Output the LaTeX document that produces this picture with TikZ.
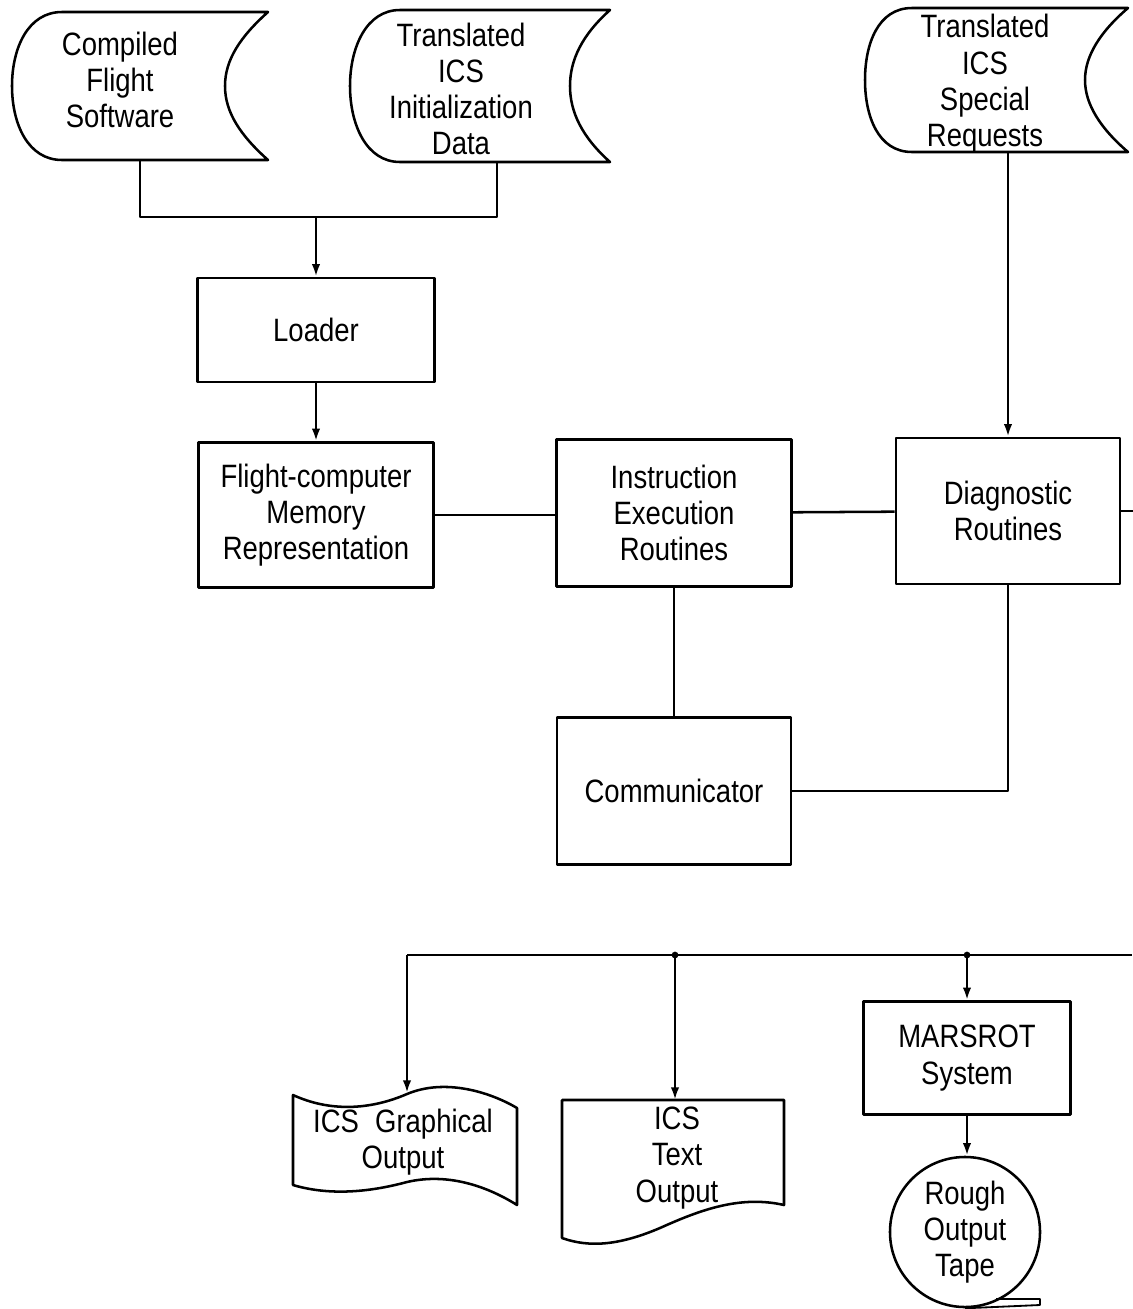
\documentclass[tikz,border=0pt]{standalone}
\usepackage{fontspec}
\setmainfont[FakeStretch=0.85]{Liberation Sans}
\usetikzlibrary{arrows.meta, positioning}

\begin{document}
\begin{tikzpicture}[x=0.025cm, y=-0.025cm, line width=1.8pt, line join=round, >={Latex[length=9pt,width=6pt]},
	every node/.style={font=\fontsize{23}{25.8}\selectfont, align=center},
	box/.style={draw, rectangle, inner sep=2pt},
	txt/.style={inner sep=0pt},
	tape/.style={draw, circle, minimum size=3.75cm, inner sep=0pt}]
	\fill[white] (0,0) rectangle (1132,1309);
	\useasboundingbox (0,0) rectangle (1132,1309);

	% Stored data
	\node[txt] (cfs) at (120,80) {Compiled\\Flight\\Software};
	\draw (268,12) -- (62,12) .. controls (28,12) and (12,48) .. (12,86) .. controls (12,124) and (28,160) .. (62,160) -- (268,160) .. controls (240,135) and (225,112) .. (225,86) .. controls (225,60) and (240,37) .. (268,12) -- cycle;
	\node[txt] (icd) at (461,89) {Translated\\ICS\\Initialization\\Data};
	\draw (610,10) -- (400,10) .. controls (366,10) and (350,48) .. (350,86) .. controls (350,124) and (366,162) .. (400,162) -- (610,162) .. controls (582,137) and (570,112) .. (570,86) .. controls (570,60) and (582,35) .. (610,10) -- cycle;
	\node[txt] (isr) at (985,84) {Translated\\ICS\\Special\\Requests};
	\draw (1128,8) -- (912,8) .. controls (878,8) and (865,44) .. (865,80) .. controls (865,116) and (878,152) .. (912,152) -- (1128,152) .. controls (1100,128) and (1085,104) .. (1085,80) .. controls (1085,56) and (1100,32) .. (1128,8) -- cycle;
	\coordinate (cfs-out) at (140,160);
	\coordinate (icd-out) at (497,162);
	\coordinate (isr-out) at (1008,152);
	\coordinate (join) at (316,217);

	% Processing boxes
	\node[box, minimum width=5.925cm, minimum height=2.6cm] (loader) at (316,330) {Loader};
	\node[box, minimum width=5.875cm, minimum height=3.625cm] (mem) at (316,515) {Flight-computer\\Memory\\Representation};
	\node[box, minimum width=5.875cm, minimum height=3.675cm] (instr) at (674,513) {Instruction\\Execution\\Routines};
	\node[box, minimum width=5.6cm, minimum height=3.65cm] (diag) at (1008,511) {Diagnostic\\Routines};
	\node[box, minimum width=5.85cm, minimum height=3.675cm] (comm) at (674,791) {Communicator};
	\node[box, minimum width=5.175cm, minimum height=2.825cm] (mars) at (967,1058) {MARSROT\\System};

	% Outputs
	\node[txt] (gout) at (403,1142) {ICS\enspace Graphical\\Output};
	\draw (293,1095) .. controls (330,1112) and (370,1110) .. (407,1094) .. controls (445,1078) and (490,1092) .. (517,1108) -- (517,1205) .. controls (490,1188) and (450,1172) .. (407,1182) .. controls (370,1192) and (330,1196) .. (293,1185) -- cycle;
	\node[txt] (tout) at (677,1158) {ICS\\Text\\Output};
	\draw (562,1100) -- (784,1100) -- (784,1205) .. controls (740,1195) and (700,1210) .. (660,1228) .. controls (620,1245) and (590,1248) .. (562,1238) -- cycle;
	\node[tape] (rot) at (965,1232) {Rough\\Output\\Tape};
	\draw[line width=1.3pt] (rot.south) -- (1040,1305) -- (1040,1299) -- (996,1299);
	\coordinate (gout-in) at (407,1093);
	\coordinate (tout-in) at (675,1100);

	% Bus
	\coordinate (bus-l) at (407,955);
	\coordinate (tap1) at (675,955);
	\coordinate (tap2) at (967,955);
	\coordinate (bus-r) at (1132,955);

	% Connections
	\draw (cfs-out) |- (join) -| (icd-out);
	\draw[->] (join) -- (loader);
	\draw[->] (loader) -- (mem);
	\draw (mem.east) -- (mem.east -| instr.west);
	\draw (instr) -- (diag);
	\draw (diag.east) -- ++(14,0);
	\draw[->] (isr-out) -- (diag);
	\draw (instr) -- (comm);
	\draw (comm.east) -| (diag.south);
	\draw (bus-l) -- (bus-r);
	\fill (tap1) circle (2.4pt);
	\fill (tap2) circle (2.4pt);
	\draw[->] (bus-l) -- (gout-in);
	\draw[->] (tap1) -- (tout-in);
	\draw[->] (tap2) -- (mars);
	\draw[->] (mars.south) -- (mars.south |- rot.north);
\end{tikzpicture}
\end{document}
